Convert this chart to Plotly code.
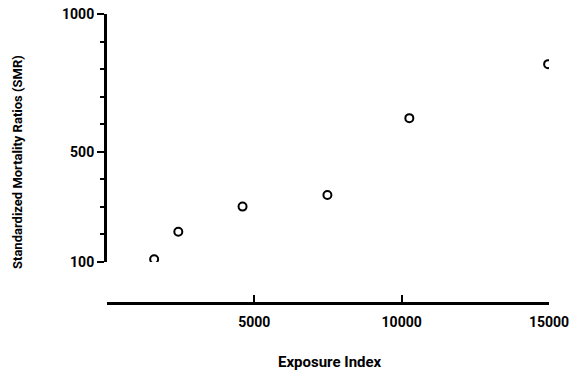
import plotly.graph_objects as go

exposure_index = [1600, 2420, 4600, 7480, 10260, 14970]
smr = [110, 210, 301, 343, 622, 818]

x_ticks = [0, 5000, 10000, 15000]
x_tick_labels = ["", "5000", "10000", "15000"]
y_major_ticks = [100, 500, 1000]
y_minor_ticks = [200, 300, 400, 600, 700, 800, 900]

FONT = "Roboto, Liberation Sans Narrow, sans-serif"

W, H = 571, 375
ml = 107
mt = 14
mr = W - 549
mb = H - 303
plot_h = H - mt - mb
plot_w = W - ml - mr
ydom0 = (303 - 262) / plot_h


def px(xp):
    return (xp - ml) / plot_w


def py(yp):
    return (H - mb - yp) / plot_h


fig = go.Figure()
fig.add_trace(go.Scatter(
    x=exposure_index, y=smr, mode="markers",
    marker=dict(symbol="circle-open", size=8, color="black", line=dict(width=2, color="black")),
    showlegend=False,
))

fig.update_layout(
    width=W, height=H,
    margin=dict(l=ml, r=mr, t=mt, b=mb, autoexpand=False),
    paper_bgcolor="white", plot_bgcolor="white",
    font=dict(family=FONT, size=14, color="black"),
    xaxis=dict(
        range=[0, 15000], tickvals=x_ticks, ticktext=x_tick_labels,
        ticks="inside", ticklen=7, tickwidth=2, tickcolor="black",
        showline=True, linewidth=3, linecolor="black",
        showgrid=False, zeroline=False, automargin=False,
        anchor="free", position=0, ticklabeloverflow="allow",
        ticklabelstandoff=5,
        tickfont=dict(family=FONT, size=14, weight="bold"),
    ),
    yaxis=dict(
        range=[100, 1000], domain=[ydom0, 1],
        tickvals=y_major_ticks, ticktext=[str(v) for v in y_major_ticks],
        ticks="outside", ticklen=7, tickwidth=2, tickcolor="black",
        minor=dict(tickvals=y_minor_ticks, ticks="outside", ticklen=4, tickwidth=2, tickcolor="black"),
        showline=True, linewidth=3, linecolor="black",
        showgrid=False, zeroline=False, automargin=False, ticklabeloverflow="allow",
        tickfont=dict(family=FONT, size=14, weight="bold"),
    ),
    annotations=[
        dict(text="Standardized Mortality Ratios (SMR)", textangle=-90,
             xref="paper", yref="paper", x=px(17), y=py(162),
             xanchor="center", yanchor="middle", showarrow=False,
             font=dict(family=FONT, size=13, weight="bold")),
        dict(text="Exposure Index",
             xref="paper", yref="paper", x=px(330), y=py(362),
             xanchor="center", yanchor="middle", showarrow=False,
             font=dict(family=FONT, size=15, weight="bold")),
    ],
)

fig.write_html(
    "out.html",
    config={"displayModeBar": False},
    post_script="document.body.style.margin='0';document.body.style.overflow='hidden';",
)
